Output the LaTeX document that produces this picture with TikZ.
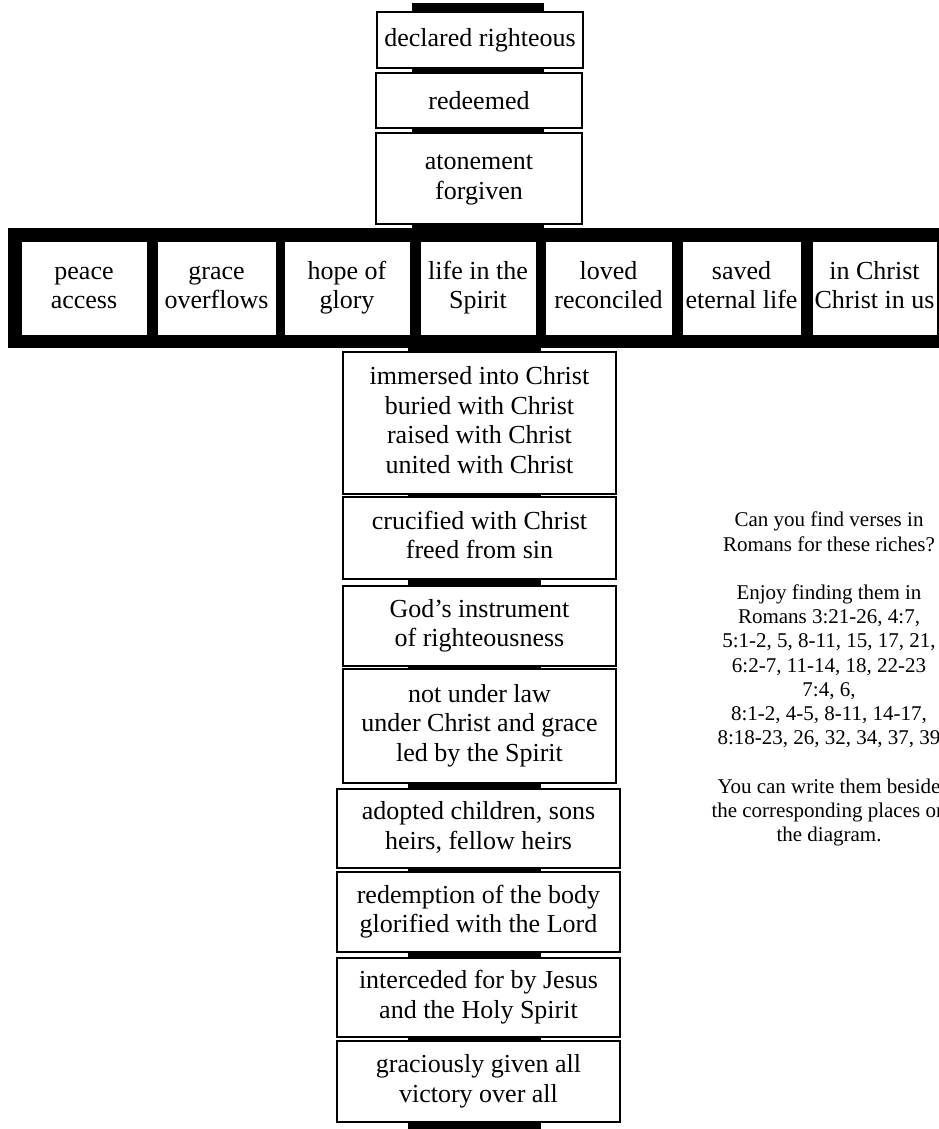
\documentclass[tikz,border=0pt]{standalone}
\usepackage{fontspec}
\setmainfont{Liberation Serif}
\begin{document}
\begin{tikzpicture}[x=1pt,y=-1pt,
  cbox/.style={draw=black, line width=1.4pt, fill=white, inner sep=0pt, align=center,
    font=\fontsize{26}{29.5}\selectfont},
  xbox/.style={cbox, line width=0.8pt, minimum height=94},
  barfill/.style={fill=black},
  note/.style={align=center, inner sep=0pt, font=\fontsize{21}{24.2}\selectfont}]
\clip (0,0) rectangle (939,1129);
\fill[white] (0,0) rectangle (939,1129);
% cross bars
\fill[barfill] (412,3) rectangle (544,230);
\fill[barfill] (408,346) rectangle (541,1129);
\fill[barfill] (8,228) rectangle (950,348);
% top boxes
\node[cbox, minimum width=206, minimum height=56] (dr) at (480,40) {declared righteous};
\node[cbox, minimum width=206, minimum height=55] (red) at (479,100.5) {redeemed};
\node[cbox, minimum width=206, minimum height=91] (aton) at (479,178.5) {\strut atonement\\\strut forgiven};
% crossbar boxes
\node[xbox, minimum width=126] (peace) at (84,288) {\strut peace\\\strut access};
\node[xbox, minimum width=119] (grace) at (216.5,288) {\strut grace\\\strut overflows};
\node[xbox, minimum width=126] (hope) at (347,288) {\strut hope of\\\strut glory};
\node[xbox, minimum width=116] (life) at (478,288) {\strut life in the\\\strut Spirit};
\node[xbox, minimum width=127] (loved) at (608.5,288) {\strut loved\\\strut reconciled};
\node[xbox, minimum width=119] (saved) at (741.5,288) {\strut saved\\\strut eternal life};
\node[xbox, minimum width=125] (inchrist) at (874.5,288) {\strut in Christ\\\strut Christ in us};
% lower boxes
\node[cbox, minimum width=273, minimum height=142] (imm) at (479.5,423) {\strut immersed into Christ\\buried with Christ\\raised with Christ\\\strut united with Christ};
\node[cbox, minimum width=273, minimum height=82] (cruc) at (479.5,538) {\strut crucified with Christ\\\strut freed from sin};
\node[cbox, minimum width=273, minimum height=80] (god) at (479.5,626) {\strut God’s instrument\\\strut of righteousness};
\node[cbox, minimum width=273, minimum height=114] (law) at (479.5,726) {\strut not under law\\under Christ and grace\\\strut led by the Spirit};
\node[cbox, minimum width=283, minimum height=79] (adopt) at (478.5,828.5) {\strut adopted children, sons\\\strut heirs, fellow heirs};
\node[cbox, minimum width=283, minimum height=80] (redemp) at (478.5,912) {\strut redemption of the body\\\strut glorified with the Lord};
\node[cbox, minimum width=283, minimum height=79] (inter) at (478.5,997.5) {\strut interceded for by Jesus\\\strut and the Holy Spirit};
\node[cbox, minimum width=283, minimum height=81] (grac) at (478.5,1081.5) {\strut graciously given all\\\strut victory over all};
% note
\node[note] (note) at (829,679) {Can you find verses in\\Romans for these riches?\\[24.2pt]Enjoy finding them in\\Romans 3:21-26, 4:7,\\5:1-2, 5, 8-11, 15, 17, 21,\\6:2-7, 11-14, 18, 22-23\\7:4, 6,\\8:1-2, 4-5, 8-11, 14-17,\\8:18-23, 26, 32, 34, 37, 39\\[24.2pt]You can write them beside\\the corresponding places on\\the diagram.};
\end{tikzpicture}
\end{document}
